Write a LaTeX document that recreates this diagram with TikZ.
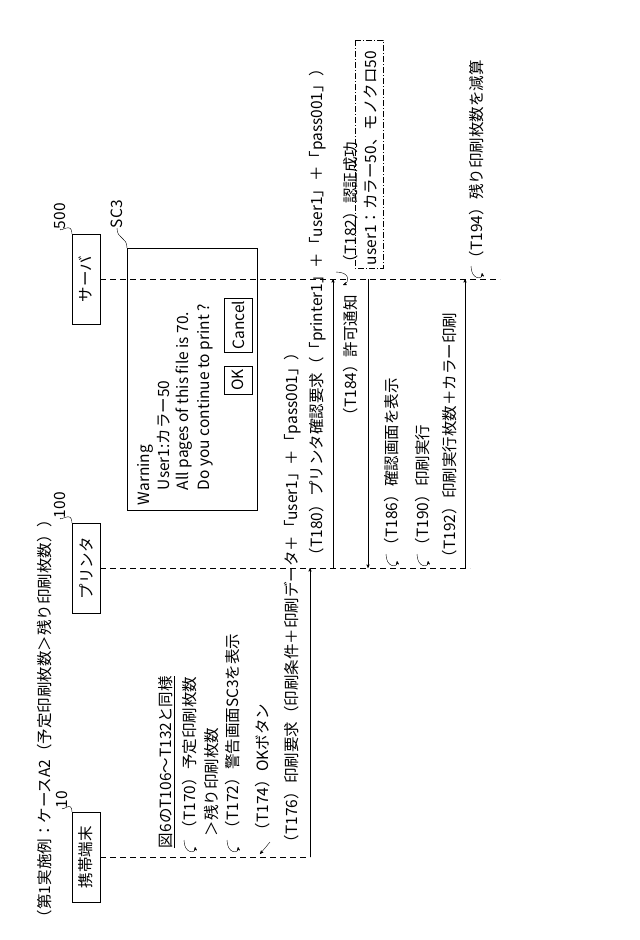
\documentclass[tikz,border=0pt]{standalone}
\usepackage{fontspec}
\setmainfont{Noto Sans CJK JP}
\usetikzlibrary{positioning}
\usetikzlibrary{arrows}

\begin{document}
\begin{tikzpicture}[x=1pt,y=-1pt,
    every node/.style={inner sep=0,outer sep=0,font=\fontsize{15.5}{17}\selectfont},
    lbl/.style={rotate=90,anchor=west},
    actor/.style={draw,rotate=90,minimum width=90,minimum height=28,thick},
    life/.style={dash pattern=on 6pt off 4pt},
    msg/.style={->,>=stealth',thin},
    btn/.style={draw,rotate=90,inner sep=3pt,minimum height=28}]
    \useasboundingbox (0,0) rectangle (640,940);
    % title
    \node[lbl] (T0) at (45,925) {（第1実施例：ケースA2（予定印刷枚数＞残り印刷枚数））};
    % actors
    \node[actor] (A1) at (86,857) {携帯端末};
    \node[actor] (A2) at (86,568) {プリンタ};
    \node[actor] (A3) at (86,279) {サーバ};
    \node[rotate=90,anchor=west] (N1) at (62,808) {10};
    \node[rotate=90,anchor=west] (N2) at (60,518) {100};
    \node[rotate=90,anchor=west] (N3) at (60,229) {500};
    \draw (A1.north east) .. controls (72,800) and (62,812) .. (N1.west);
    \draw (A2.north east) .. controls (72,510) and (60,522) .. (N2.west);
    \draw (A3.north east) .. controls (72,221) and (60,233) .. (N3.west);
    % lifelines
    \coordinate (L1) at (310,857);
    \coordinate (L2) at (470,568);
    \coordinate (L3) at (500,279);
    \draw[life] (A1.south) -- (L1);
    \draw[life] (A2.south) -- (L2);
    \draw[life] (A3.south) -- (L3);
    % warning screen
    \draw (127,248) rectangle (257,510);
    \node[rotate=90,anchor=west] (SC) at (117,228) {SC3};
    \draw (127,248) .. controls (127,236) and (117,240) .. (SC.west);
    \node[lbl] (W1) at (145,505) {Warning};
    \node[lbl] (W2) at (164,490) {User1:カラー50};
    \node[lbl] (W3) at (184,490) {All pages of this file is 70.};
    \node[lbl] (W4) at (205,490) {Do you continue to print ?};
    \node[btn] (OK) at (238,380) {OK};
    \node[btn] (CN) at (238,325) {Cancel};
    % mobile side
    \node[lbl] (S0) at (167,848) {\underline{図6のT106～T132と同様}};
    \node[lbl] (S1) at (190,836) {（T170）予定印刷枚数};
    \node[lbl] (S2) at (212,836) {＞残り印刷枚数};
    \node[lbl] (S3) at (233,836) {（T172）警告画面SC3を表示};
    \node[lbl] (S4) at (263,838) {（T174）OKボタン};
    \node[lbl] (S5) at (293,850) {（T176）印刷要求（印刷条件＋印刷データ＋「user1」＋「pass001」）};
    \foreach \cx/\cy in {190/848, 233/848, 392/562, 423/562, 477/274}
        \draw[->,>=stealth'] (\cx-6,\cy-8) .. controls (\cx-6,\cy+6) and (\cx+6,\cy+6) .. (\cx+5,\cy-1);
    \draw[->,>=stealth'] (270,842) -- (260,854);
    % messages
    \coordinate (M1a) at (310,857); \coordinate (M1b) at (310,568);
    \coordinate (M2a) at (333,568); \coordinate (M2b) at (333,279);
    \coordinate (M3a) at (368,279); \coordinate (M3b) at (368,568);
    \coordinate (M4a) at (465,568); \coordinate (M4b) at (465,279);
    \draw[msg] (M1a) -- (M1b);
    \draw[msg] (M2a) -- (M2b);
    \draw[msg] (M3a) -- (M3b);
    \draw[msg] (M4a) -- (M4b);
    \node[lbl] (S6) at (318,563) {（T180）プリンタ確認要求（「printer1」＋「user1」＋「pass001」）};
    \draw[->,>=stealth'] (336,272) .. controls (350,272) and (350,282) .. (343,285);
    \node[lbl] (S7) at (351,270) {（T182）認証成功};
    \draw[dash pattern=on 6pt off 2pt on 1pt off 2pt] (355,40) rectangle (383,268);
    \node[lbl] (S8) at (371,265) {user1：カラー50、モノクロ50};
    \node[lbl,anchor=east] (S9) at (351,295) {（T184）許可通知};
    \node[lbl] (S10) at (392,553) {（T186）確認画面を表示};
    \node[lbl] (S11) at (423,553) {（T190）印刷実行};
    \node[lbl] (S12) at (450,565) {（T192）印刷実行枚数＋カラー印刷};
    \node[lbl] (S13) at (477,266) {（T194）残り印刷枚数を減算};
\end{tikzpicture}
\end{document}
